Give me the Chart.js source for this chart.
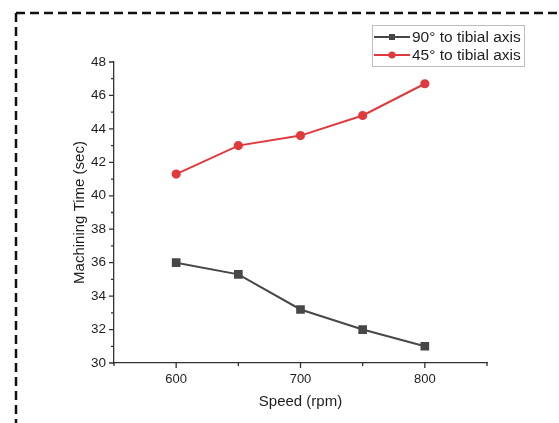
<!DOCTYPE html>
<html>
<head>
  <title>Machining Time vs Speed</title>
  <script src="https://cdn.jsdelivr.net/npm/chart.js"></script>
  <style>
    html, body { margin: 0; padding: 0; background: #fff; }
    canvas { display: block; }
  </style>
</head>
<body>
  <canvas id="chart" width="559" height="423"></canvas>

  <script>
    const speeds = [600, 650, 700, 750, 800];
    const time90 = [36.0, 35.3, 33.2, 32.0, 31.0];
    const time45 = [41.3, 43.0, 43.6, 44.8, 46.7];
    const seriesLabels = ['90° to tibial axis', '45° to tibial axis'];
    const xLabels = [600, 700, 800];
    const yLabels = [30, 32, 34, 36, 38, 40, 42, 44, 46, 48];

    const grey = '#474747';
    const red = '#e03a3d';
    const textColor = '#1e1e1e';
    const font = 'Arial, "Liberation Sans", sans-serif';

    // dashed frame around the figure, Origin style ticks and the boxed legend
    const decor = {
      id: 'decor',
      beforeDraw(chart) {
        const ctx = chart.ctx;
        ctx.save();
        ctx.strokeStyle = '#111';
        ctx.lineWidth = 2.5;
        ctx.setLineDash([9, 5]);
        ctx.beginPath();
        ctx.moveTo(16, 13); ctx.lineTo(559, 13);
        ctx.moveTo(16, 13); ctx.lineTo(16, 423);
        ctx.stroke();
        ctx.restore();
      },
      afterDraw(chart) {
        const ctx = chart.ctx;
        const xs = chart.scales.x, ys = chart.scales.y;
        ctx.save();
        ctx.strokeStyle = '#333';
        ctx.lineWidth = 1.3;
        ctx.beginPath();
        ys.ticks.forEach(t => {
          const y = ys.getPixelForValue(t.value);
          const len = yLabels.includes(t.value) ? 5 : 3;
          ctx.moveTo(ys.right, y); ctx.lineTo(ys.right - len, y);
        });
        xs.ticks.forEach(t => {
          const x = xs.getPixelForValue(t.value);
          const len = xLabels.includes(t.value) ? 5 : 3;
          ctx.moveTo(x, xs.top); ctx.lineTo(x, xs.top + len);
        });
        ctx.stroke();

        // legend
        const bx = 372, by = 25, bw = 152, bh = 41;
        ctx.strokeStyle = '#bdbdbd';
        ctx.lineWidth = 1;
        ctx.strokeRect(bx + 0.5, by + 0.5, bw, bh);
        ctx.font = '15.5px ' + font;
        ctx.textBaseline = 'middle';
        chart.data.datasets.forEach((ds, i) => {
          const y = by + 12 + i * 18;
          ctx.strokeStyle = ds.borderColor;
          ctx.lineWidth = 2;
          ctx.beginPath();
          ctx.moveTo(bx + 2, y); ctx.lineTo(bx + 38, y);
          ctx.stroke();
          ctx.fillStyle = ds.borderColor;
          if (ds.pointStyle === 'rect') {
            ctx.fillRect(bx + 17, y - 3, 6, 6);
          } else {
            ctx.beginPath();
            ctx.arc(bx + 20, y, 3.5, 0, Math.PI * 2);
            ctx.fill();
          }
          ctx.fillStyle = textColor;
          ctx.fillText(ds.label, bx + 40, y + 1);
        });
        ctx.restore();
      }
    };

    new Chart(document.getElementById('chart'), {
      type: 'line',
      data: {
        datasets: [
          {
            label: seriesLabels[0],
            data: speeds.map((s, i) => ({ x: s, y: time90[i] })),
            borderColor: grey,
            backgroundColor: grey,
            borderWidth: 2,
            pointStyle: 'rect',
            pointRadius: 4.7,
            fill: false
          },
          {
            label: seriesLabels[1],
            data: speeds.map((s, i) => ({ x: s, y: time45[i] })),
            borderColor: red,
            backgroundColor: red,
            borderWidth: 2,
            pointStyle: 'circle',
            pointRadius: 3.6,
            fill: false
          }
        ]
      },
      options: {
        responsive: false,
        animation: false,
        layout: { padding: { left: 67, right: 72, top: 62, bottom: 8 } },
        plugins: {
          legend: { display: false },
          tooltip: { enabled: false }
        },
        scales: {
          x: {
            type: 'linear',
            min: 550,
            max: 850,
            afterFit: s => { s.height = 52; },
            border: { display: true, color: '#333', width: 1.3 },
            grid: { display: true, drawOnChartArea: false, drawTicks: false },
            ticks: {
              stepSize: 50,
              padding: 9,
              autoSkip: false,
              maxRotation: 0,
              color: textColor,
              font: { family: font, size: 13 },
              callback: v => xLabels.includes(v) ? String(v) : ''
            },
            title: {
              display: true,
              text: 'Speed (rpm)',
              color: textColor,
              font: { family: font, size: 15 },
              padding: 4
            }
          },
          y: {
            min: 30,
            max: 48,
            afterFit: s => { s.width = 47; },
            border: { display: true, color: '#333', width: 1.3 },
            grid: { display: true, drawOnChartArea: false, drawTicks: false },
            ticks: {
              stepSize: 1,
              padding: 8,
              autoSkip: false,
              color: textColor,
              font: { family: font, size: 13.5 },
              callback: v => yLabels.includes(v) ? String(v) : ''
            },
            title: {
              display: true,
              text: 'Machining Time (sec)',
              color: textColor,
              font: { family: font, size: 15 },
              padding: 4
            }
          }
        }
      },
      plugins: [decor]
    });
  </script>
</body>
</html>
